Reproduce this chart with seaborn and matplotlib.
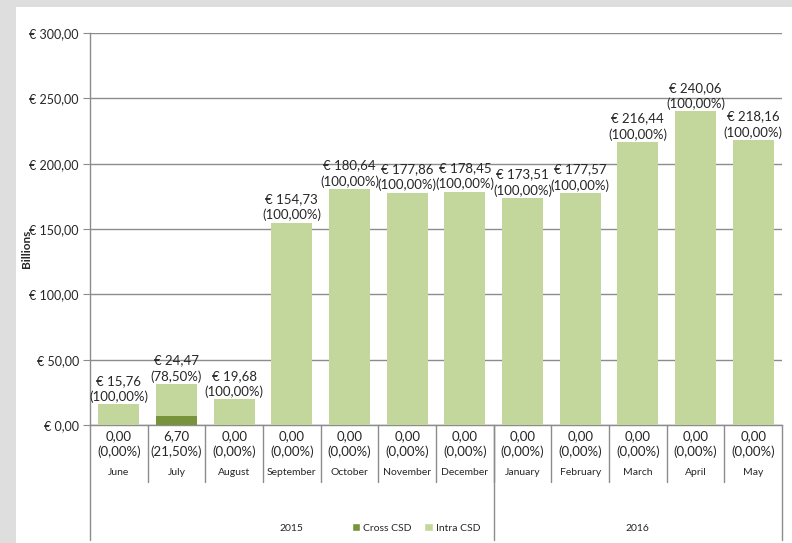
import matplotlib
matplotlib.use("Agg")
import matplotlib.pyplot as plt
import matplotlib.transforms as mtransforms
from matplotlib.patches import Patch, Rectangle
import pandas as pd
import seaborn as sns

months = ["June", "July", "August", "September", "October", "November",
          "December", "January", "February", "March", "April", "May"]
years = ["2015", "2016"]
months_per_year = [7, 5]
intra_csd = [15.76, 24.47, 19.68, 154.73, 180.64, 177.86, 178.45,
             173.51, 177.57, 216.44, 240.06, 218.16]
cross_csd = [0.00, 6.70, 0.00, 0.00, 0.00, 0.00, 0.00,
             0.00, 0.00, 0.00, 0.00, 0.00]
intra_pct = ["100,00%", "78,50%", "100,00%", "100,00%", "100,00%", "100,00%",
             "100,00%", "100,00%", "100,00%", "100,00%", "100,00%", "100,00%"]
cross_pct = ["0,00%", "21,50%", "0,00%", "0,00%", "0,00%", "0,00%",
             "0,00%", "0,00%", "0,00%", "0,00%", "0,00%", "0,00%"]
yticks = [0, 50, 100, 150, 200, 250, 300]

light = "#C3D69B"
dark = "#77933C"
line_c = "#8c8c8c"


def euro(v):
    return "€ " + f"{v:.2f}".replace(".", ",")


df = pd.DataFrame({"month": months, "intra": intra_csd, "cross": cross_csd})
df["total"] = df["intra"] + df["cross"]

sns.set_style("white")
plt.rcParams["font.family"] = ["Lato", "DejaVu Sans"]

fig = plt.figure(figsize=(7.92, 5.43), dpi=100)
fig.patch.set_facecolor("#dedede")
fig.add_artist(Rectangle((16 / 792, 0), 1, 1 - 7 / 543, transform=fig.transFigure,
                         facecolor="white", edgecolor="none", zorder=-10))

ax = fig.add_axes([90 / 792, 118 / 543, 692 / 792, 392 / 543])
ax.set_facecolor("none")

sns.barplot(data=df, x="month", y="total", color=light, width=0.71,
            saturation=1, linewidth=0, ax=ax, zorder=3)
sns.barplot(data=df, x="month", y="cross", color=dark, width=0.71,
            saturation=1, linewidth=0, ax=ax, zorder=3)

ax.set_ylim(0, 300)
ax.set_xlim(-0.5, len(months) - 0.5)
ax.set_yticks(yticks)
ax.set_yticklabels([euro(v) for v in yticks], fontsize=9)
ax.set_xticks([])
ax.set_xlabel("")
ax.set_ylabel("Billions", fontsize=8.5, fontweight="bold")
ax.yaxis.set_label_coords(-0.084, 0.45)
ax.yaxis.grid(True, color=line_c, linewidth=1)
ax.set_axisbelow(True)
ax.tick_params(axis="y", length=5, color=line_c, left=True, pad=3)
for s in ["top", "right"]:
    ax.spines[s].set_visible(False)
for s in ["left", "bottom"]:
    ax.spines[s].set_color(line_c)
    ax.spines[s].set_linewidth(1)

# value labels over the bars
for i, row in df.iterrows():
    ax.annotate(euro(row["intra"]) + "\n(" + intra_pct[i] + ")",
                (i, row["total"]), xytext=(0, 1), textcoords="offset points",
                ha="center", va="bottom", fontsize=9.5, linespacing=1.35)

# table under the axis
trans = mtransforms.blended_transform_factory(ax.transData, ax.transAxes)
for i in range(len(months)):
    ax.text(i, -0.028, f"{cross_csd[i]:.2f}".replace(".", ","), transform=trans,
            ha="center", va="center", fontsize=9.5)
    ax.text(i, -0.069, "(" + cross_pct[i] + ")", transform=trans,
            ha="center", va="center", fontsize=9.5)
    ax.text(i, -0.122, months[i], transform=trans,
            ha="center", va="center", fontsize=7.5)

bounds = [0]
for n in months_per_year:
    bounds.append(bounds[-1] + n)
for b in range(1, len(months)):
    ax.plot([b - 0.5, b - 0.5], [0, -0.145], transform=trans, color=line_c,
            lw=1, clip_on=False)
for b in bounds:
    ax.plot([b - 0.5, b - 0.5], [0, -0.293], transform=trans, color=line_c,
            lw=1, clip_on=False)
for k, yr in enumerate(years):
    mid = (bounds[k] + bounds[k + 1]) / 2 - 0.5
    ax.text(mid, -0.263, yr, transform=trans, ha="center", va="center",
            fontsize=7.5)

handles = [Patch(facecolor=dark, label="Cross CSD"),
           Patch(facecolor=light, label="Intra CSD")]
fig.legend(handles=handles, loc="center", bbox_to_anchor=(416 / 792, 1 - 528 / 543),
           ncol=2, frameon=False, fontsize=7.5, handlelength=0.8,
           handleheight=0.8, handletextpad=0.3, columnspacing=1.2)

fig.savefig("out.png", dpi=100, facecolor=fig.get_facecolor())
